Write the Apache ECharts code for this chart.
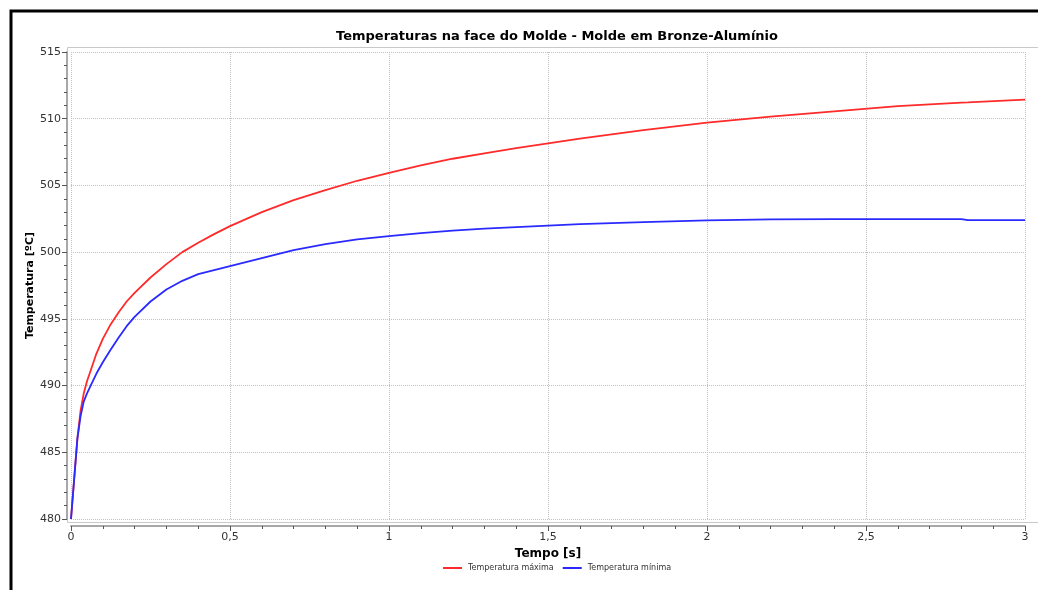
<!DOCTYPE html>
<html>
<head>
<meta charset="utf-8">
<script src="https://cdn.jsdelivr.net/npm/echarts@6/dist/echarts.min.js"></script>
<style>html,body{margin:0;padding:0;background:#fff;}#c{width:1038px;height:590px;}</style>
</head>
<body>
<div id="c"></div>
<script>
const times = [0, 0.02, 0.03, 0.04, 0.05, 0.06, 0.08, 0.1, 0.125, 0.15, 0.175, 0.2, 0.25, 0.3, 0.35, 0.4, 0.45, 0.5, 0.6, 0.7, 0.8, 0.9, 1.0, 1.1, 1.2, 1.3, 1.4, 1.6, 1.8, 2.0, 2.2, 2.4, 2.6, 2.8, 2.82, 3.0];
const tempMax = [480, 486.0, 488.1, 489.4, 490.3, 491.0, 492.4, 493.5, 494.6, 495.5, 496.3, 496.95, 498.1, 499.1, 500.0, 500.7, 501.35, 501.95, 503.0, 503.9, 504.65, 505.35, 505.95, 506.5, 507.0, 507.4, 507.8, 508.5, 509.15, 509.7, 510.15, 510.55, 510.95, 511.2, 511.22, 511.43];
const tempMin = [480, 486.0, 487.7, 488.8, 489.4, 489.9, 490.9, 491.75, 492.7, 493.6, 494.45, 495.15, 496.3, 497.2, 497.85, 498.35, 498.65, 498.95, 499.55, 500.15, 500.6, 500.95, 501.2, 501.42, 501.62, 501.76, 501.88, 502.1, 502.25, 502.38, 502.46, 502.48, 502.48, 502.48, 502.4, 502.4];
const seriesNames = ['Temperatura máxima', 'Temperatura mínima'];
const titleText = 'Temperaturas na face do Molde - Molde em Bronze-Alumínio';
const xName = 'Tempo [s]';
const yName = 'Temperatura [ºC]';

const chart = echarts.init(document.getElementById('c'), null, {renderer: 'canvas'});
const fmt = v => String(v).replace('.', ',');
const font = '"DejaVu Sans", sans-serif';
chart.setOption({
  backgroundColor: '#fff',
  animation: false,
  graphic: [
    {type: 'rect', shape: {x: 11, y: 11, width: 1100, height: 700}, style: {fill: 'none', stroke: '#000', lineWidth: 3}, silent: true},
    {type: 'rect', shape: {x: 67.5, y: 47.5, width: 980, height: 475}, style: {fill: 'none', stroke: '#c8c8c8', lineWidth: 1}, silent: true, z: -1}
  ],
  title: {
    text: titleText, left: 552, textAlign: 'center', top: 25,
    textStyle: {fontSize: 13, fontWeight: 'bold', color: '#000', fontFamily: font}
  },
  legend: {
    bottom: 13, left: 438, itemWidth: 19, itemHeight: 2, icon: 'rect', itemGap: 9,
    textStyle: {fontSize: 8, color: '#333', fontFamily: font, padding: [0, 0, 0, 1]},
    data: seriesNames
  },
  grid: {left: 71, right: 13, top: 52, bottom: 71, containLabel: false},
  xAxis: {
    type: 'value', min: 0, max: 3, interval: 0.5,
    name: xName, nameLocation: 'middle', nameGap: 22,
    nameTextStyle: {fontSize: 12, fontWeight: 'bold', color: '#000', fontFamily: font},
    offset: 7,
    axisLine: {show: true, onZero: false, lineStyle: {color: '#a8a8a8', width: 2}},
    axisTick: {show: true, length: 5, lineStyle: {color: '#555'}},
    minorTick: {show: true, splitNumber: 5, length: 3, lineStyle: {color: '#555'}},
    axisLabel: {formatter: fmt, fontSize: 11, color: '#333', fontFamily: font, margin: 6},
    splitLine: {show: true, lineStyle: {color: '#c0c0c0', type: [1, 1], width: 1}}
  },
  yAxis: {
    type: 'value', min: 480, max: 515, interval: 5,
    name: yName, nameLocation: 'middle', nameGap: 31, nameRotate: 90, nameMoveOverlap: false,
    nameTextStyle: {fontSize: 11, fontWeight: 'bold', color: '#000', fontFamily: font},
    offset: 4,
    axisLine: {show: true, onZero: false, lineStyle: {color: '#a8a8a8', width: 2}},
    axisTick: {show: true, length: 5, lineStyle: {color: '#555'}},
    minorTick: {show: true, splitNumber: 5, length: 3, lineStyle: {color: '#555'}},
    axisLabel: {fontSize: 11, color: '#333', fontFamily: font, margin: 6},
    splitLine: {show: true, lineStyle: {color: '#c0c0c0', type: [1, 1], width: 1}}
  },
  series: [
    {name: seriesNames[0], type: 'line', showSymbol: false, symbol: 'none', smooth: false,
     lineStyle: {color: '#ff2a2a', width: 1.8}, itemStyle: {color: '#ff2a2a'},
     data: times.map((t, i) => [t, tempMax[i]])},
    {name: seriesNames[1], type: 'line', showSymbol: false, symbol: 'none', smooth: false,
     lineStyle: {color: '#2a2aff', width: 1.8}, itemStyle: {color: '#2a2aff'},
     data: times.map((t, i) => [t, tempMin[i]])}
  ]
});
</script>
</body>
</html>
